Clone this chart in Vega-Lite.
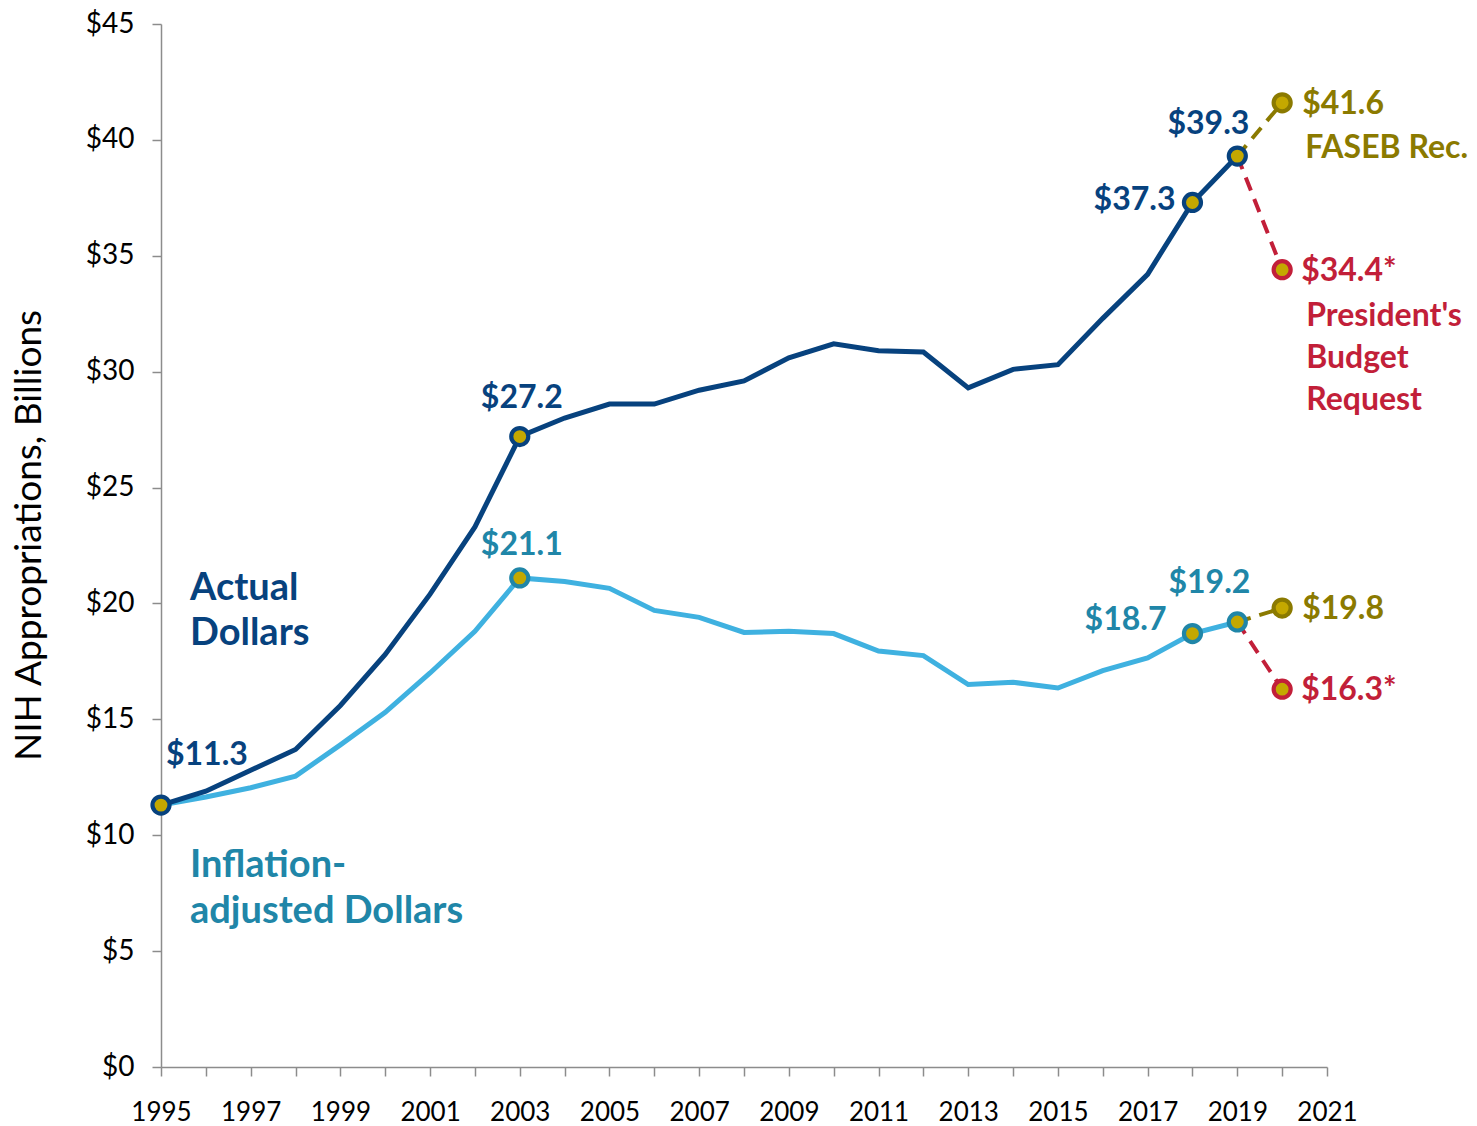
{
  "$schema": "https://vega.github.io/schema/vega-lite/v6.json",
  "width": 1166,
  "height": 1043,
  "autosize": {"type": "none"},
  "padding": {"left": 161, "top": 24, "right": 150, "bottom": 59},
  "background": "white",
  "config": {
    "font": "Lato",
    "view": {"stroke": null},
    "axis": {
      "grid": false,
      "domainColor": "#8c8c8c",
      "tickColor": "#8c8c8c",
      "domainWidth": 1.5,
      "tickWidth": 1.5,
      "labelColor": "#000000",
      "labelFont": "Lato",
      "titleFont": "Lato",
      "titleColor": "#000000"
    }
  },
  "datasets": {
    "main": [
      {"series": "Actual", "year": 1995, "value": 11.3},
      {"series": "Actual", "year": 1996, "value": 11.9},
      {"series": "Actual", "year": 1997, "value": 12.8},
      {"series": "Actual", "year": 1998, "value": 13.7},
      {"series": "Actual", "year": 1999, "value": 15.6},
      {"series": "Actual", "year": 2000, "value": 17.8},
      {"series": "Actual", "year": 2001, "value": 20.4},
      {"series": "Actual", "year": 2002, "value": 23.3},
      {"series": "Actual", "year": 2003, "value": 27.2},
      {"series": "Actual", "year": 2004, "value": 28.0},
      {"series": "Actual", "year": 2005, "value": 28.6},
      {"series": "Actual", "year": 2006, "value": 28.6},
      {"series": "Actual", "year": 2007, "value": 29.2},
      {"series": "Actual", "year": 2008, "value": 29.6},
      {"series": "Actual", "year": 2009, "value": 30.6},
      {"series": "Actual", "year": 2010, "value": 31.2},
      {"series": "Actual", "year": 2011, "value": 30.9},
      {"series": "Actual", "year": 2012, "value": 30.85},
      {"series": "Actual", "year": 2013, "value": 29.3},
      {"series": "Actual", "year": 2014, "value": 30.1},
      {"series": "Actual", "year": 2015, "value": 30.3},
      {"series": "Actual", "year": 2016, "value": 32.3},
      {"series": "Actual", "year": 2017, "value": 34.2},
      {"series": "Actual", "year": 2018, "value": 37.3},
      {"series": "Actual", "year": 2019, "value": 39.3},
      {"series": "Inflation", "year": 1995, "value": 11.3},
      {"series": "Inflation", "year": 1996, "value": 11.65},
      {"series": "Inflation", "year": 1997, "value": 12.05},
      {"series": "Inflation", "year": 1998, "value": 12.55},
      {"series": "Inflation", "year": 1999, "value": 13.9},
      {"series": "Inflation", "year": 2000, "value": 15.3},
      {"series": "Inflation", "year": 2001, "value": 17.0},
      {"series": "Inflation", "year": 2002, "value": 18.8},
      {"series": "Inflation", "year": 2003, "value": 21.1},
      {"series": "Inflation", "year": 2004, "value": 20.95},
      {"series": "Inflation", "year": 2005, "value": 20.65},
      {"series": "Inflation", "year": 2006, "value": 19.7},
      {"series": "Inflation", "year": 2007, "value": 19.4},
      {"series": "Inflation", "year": 2008, "value": 18.75},
      {"series": "Inflation", "year": 2009, "value": 18.8},
      {"series": "Inflation", "year": 2010, "value": 18.7},
      {"series": "Inflation", "year": 2011, "value": 17.95},
      {"series": "Inflation", "year": 2012, "value": 17.75},
      {"series": "Inflation", "year": 2013, "value": 16.5},
      {"series": "Inflation", "year": 2014, "value": 16.6},
      {"series": "Inflation", "year": 2015, "value": 16.35},
      {"series": "Inflation", "year": 2016, "value": 17.1},
      {"series": "Inflation", "year": 2017, "value": 17.65},
      {"series": "Inflation", "year": 2018, "value": 18.7},
      {"series": "Inflation", "year": 2019, "value": 19.2}
    ],
    "proj": [
      {"series": "FASEB", "path": "A", "year": 2019, "value": 39.3},
      {"series": "FASEB", "path": "A", "year": 2020, "value": 41.6},
      {"series": "FASEB", "path": "I", "year": 2019, "value": 19.2},
      {"series": "FASEB", "path": "I", "year": 2020, "value": 19.8},
      {"series": "President", "path": "A", "year": 2019, "value": 39.3},
      {"series": "President", "path": "A", "year": 2020, "value": 34.4},
      {"series": "President", "path": "I", "year": 2019, "value": 19.2},
      {"series": "President", "path": "I", "year": 2020, "value": 16.3}
    ],
    "pts": [
      {"ring": "Inflation", "year": 2003, "value": 21.1},
      {"ring": "Inflation", "year": 2018, "value": 18.7},
      {"ring": "Inflation", "year": 2019, "value": 19.2},
      {"ring": "Actual", "year": 1995, "value": 11.3},
      {"ring": "Actual", "year": 2003, "value": 27.2},
      {"ring": "Actual", "year": 2018, "value": 37.3},
      {"ring": "Actual", "year": 2019, "value": 39.3},
      {"ring": "FASEB", "year": 2020, "value": 41.6},
      {"ring": "FASEB", "year": 2020, "value": 19.8},
      {"ring": "President", "year": 2020, "value": 34.4},
      {"ring": "President", "year": 2020, "value": 16.3}
    ]
  },
  "encoding": {
    "x": {
      "field": "year",
      "type": "quantitative",
      "scale": {"domain": [1995, 2021], "nice": false, "zero": false},
      "axis": {
        "title": null,
        "values": [1995,1996,1997,1998,1999,2000,2001,2002,2003,2004,2005,2006,2007,2008,2009,2010,2011,2012,2013,2014,2015,2016,2017,2018,2019,2020,2021],
        "format": "d",
        "labelExpr": "datum.value % 2 == 1 ? datum.label : ''",
        "labelOverlap": false,
        "labelFlush": false,
        "labelFontSize": 26,
        "tickSize": 9,
        "labelPadding": 23
      }
    },
    "y": {
      "field": "value",
      "type": "quantitative",
      "scale": {"domain": [0, 45], "nice": false},
      "axis": {
        "title": "NIH Appropriations, Billions",
        "titleFontSize": 37,
        "titleFontWeight": "normal",
        "titleX": -113,
        "titleY": 511,
        "values": [0,5,10,15,20,25,30,35,40,45],
        "labelExpr": "'$' + datum.label",
        "labelOverlap": false,
        "labelFlush": false,
        "labelFontSize": 28,
        "tickSize": 9,
        "labelPadding": 18
      }
    }
  },
  "layer": [
    {
      "data": {"name": "main"},
      "transform": [{"filter": "datum.series == 'Inflation'"}],
      "mark": {"type": "line", "color": "#3FB1E0", "strokeWidth": 5},
      "encoding": {}
    },
    {
      "data": {"name": "main"},
      "transform": [{"filter": "datum.series == 'Actual'"}],
      "mark": {"type": "line", "color": "#07427E", "strokeWidth": 5},
      "encoding": {}
    },
    {
      "data": {"name": "proj"},
      "transform": [{"filter": "datum.series == 'FASEB'"}],
      "mark": {"type": "line", "color": "#8B7A00", "strokeWidth": 4, "strokeDash": [14, 9]},
      "encoding": {"detail": {"field": "path"}}
    },
    {
      "data": {"name": "proj"},
      "transform": [{"filter": "datum.series == 'President'"}],
      "mark": {"type": "line", "color": "#C21F39", "strokeWidth": 4, "strokeDash": [14, 9]},
      "encoding": {"detail": {"field": "path"}}
    },
    {
      "data": {"name": "pts"},
      "transform": [{"filter": "datum.ring == 'Inflation'"}],
      "mark": {"type": "point", "shape": "circle", "filled": true, "fill": "#C4A800", "stroke": "#2086A8", "strokeWidth": 4.2, "size": 290, "opacity": 1}
    },
    {
      "data": {"name": "pts"},
      "transform": [{"filter": "datum.ring == 'Actual'"}],
      "mark": {"type": "point", "shape": "circle", "filled": true, "fill": "#C4A800", "stroke": "#07427E", "strokeWidth": 4.2, "size": 290, "opacity": 1}
    },
    {
      "data": {"name": "pts"},
      "transform": [{"filter": "datum.ring == 'FASEB'"}],
      "mark": {"type": "point", "shape": "circle", "filled": true, "fill": "#C4A800", "stroke": "#8B7A00", "strokeWidth": 4.2, "size": 290, "opacity": 1}
    },
    {
      "data": {"name": "pts"},
      "transform": [{"filter": "datum.ring == 'President'"}],
      "mark": {"type": "point", "shape": "circle", "filled": true, "fill": "#C4A800", "stroke": "#C21F39", "strokeWidth": 4.2, "size": 290, "opacity": 1}
    },
    {
      "data": {"values": [{"year": 1995, "value": 11.3, "label": "$11.3"}]},
      "mark": {"type": "text", "align": "left", "baseline": "middle", "dx": 5, "dy": -50, "fontSize": 32, "fontWeight": "bold", "color": "#07427E"},
      "encoding": {"text": {"field": "label"}}
    },
    {
      "data": {"values": [{"year": 2003, "value": 27.2, "label": "$27.2"}]},
      "mark": {"type": "text", "align": "center", "baseline": "middle", "dx": 2, "dy": -39, "fontSize": 32, "fontWeight": "bold", "color": "#07427E"},
      "encoding": {"text": {"field": "label"}}
    },
    {
      "data": {"values": [{"year": 2003, "value": 21.1, "label": "$21.1"}]},
      "mark": {"type": "text", "align": "center", "baseline": "middle", "dx": 2, "dy": -33, "fontSize": 32, "fontWeight": "bold", "color": "#2086A8"},
      "encoding": {"text": {"field": "label"}}
    },
    {
      "data": {"values": [{"year": 2019, "value": 39.3, "label": "$39.3"}]},
      "mark": {"type": "text", "align": "right", "baseline": "middle", "dx": 12, "dy": -32, "fontSize": 32, "fontWeight": "bold", "color": "#07427E"},
      "encoding": {"text": {"field": "label"}}
    },
    {
      "data": {"values": [{"year": 2018, "value": 37.3, "label": "$37.3"}]},
      "mark": {"type": "text", "align": "right", "baseline": "middle", "dx": -17, "dy": -2, "fontSize": 32, "fontWeight": "bold", "color": "#07427E"},
      "encoding": {"text": {"field": "label"}}
    },
    {
      "data": {"values": [{"year": 2018, "value": 18.7, "label": "$18.7"}]},
      "mark": {"type": "text", "align": "right", "baseline": "middle", "dx": -26, "dy": -14, "fontSize": 32, "fontWeight": "bold", "color": "#2086A8"},
      "encoding": {"text": {"field": "label"}}
    },
    {
      "data": {"values": [{"year": 2019, "value": 19.2, "label": "$19.2"}]},
      "mark": {"type": "text", "align": "right", "baseline": "middle", "dx": 13, "dy": -39, "fontSize": 32, "fontWeight": "bold", "color": "#2086A8"},
      "encoding": {"text": {"field": "label"}}
    },
    {
      "data": {"values": [{"year": 2020, "value": 41.6, "label": "$41.6"}, {"year": 2020, "value": 19.8, "label": "$19.8"}]},
      "mark": {"type": "text", "align": "left", "baseline": "middle", "dx": 20, "dy": 1, "fontSize": 32, "fontWeight": "bold", "color": "#8B7A00"},
      "encoding": {"text": {"field": "label"}}
    },
    {
      "data": {"values": [{"year": 2020, "value": 41.6, "label": "FASEB Rec."}]},
      "mark": {"type": "text", "align": "left", "baseline": "middle", "dx": 23, "dy": 45, "fontSize": 32, "letterSpacing": 1.6, "fontWeight": "bold", "color": "#8B7A00"},
      "encoding": {"text": {"field": "label"}}
    },
    {
      "data": {"values": [{"year": 2020, "value": 34.4, "label": "$34.4*"}, {"year": 2020, "value": 16.3, "label": "$16.3*"}]},
      "mark": {"type": "text", "align": "left", "baseline": "middle", "dx": 19, "dy": 1, "fontSize": 32, "fontWeight": "bold", "color": "#C21F39"},
      "encoding": {"text": {"field": "label"}}
    },
    {
      "data": {"values": [{"year": 2020, "value": 34.4, "label": "President's\nBudget\nRequest"}]},
      "mark": {"type": "text", "align": "left", "baseline": "middle", "dx": 24, "dy": 46, "lineBreak": "\n", "lineHeight": 42, "fontSize": 32, "letterSpacing": 1, "fontWeight": "bold", "color": "#C21F39"},
      "encoding": {"text": {"field": "label"}}
    },
    {
      "data": {"values": [{"year": 1995, "value": 11.3, "label": "Actual\nDollars"}]},
      "mark": {"type": "text", "align": "left", "baseline": "middle", "dx": 29, "dy": -216, "lineBreak": "\n", "lineHeight": 45, "fontSize": 38, "fontWeight": "bold", "color": "#07427E"},
      "encoding": {"text": {"field": "label"}}
    },
    {
      "data": {"values": [{"year": 1995, "value": 11.3, "label": "Inflation-\nadjusted Dollars"}]},
      "mark": {"type": "text", "align": "left", "baseline": "middle", "dx": 29, "dy": 61, "lineBreak": "\n", "lineHeight": 46, "fontSize": 38, "fontWeight": "bold", "color": "#2086A8"},
      "encoding": {"text": {"field": "label"}}
    }
  ]
}
